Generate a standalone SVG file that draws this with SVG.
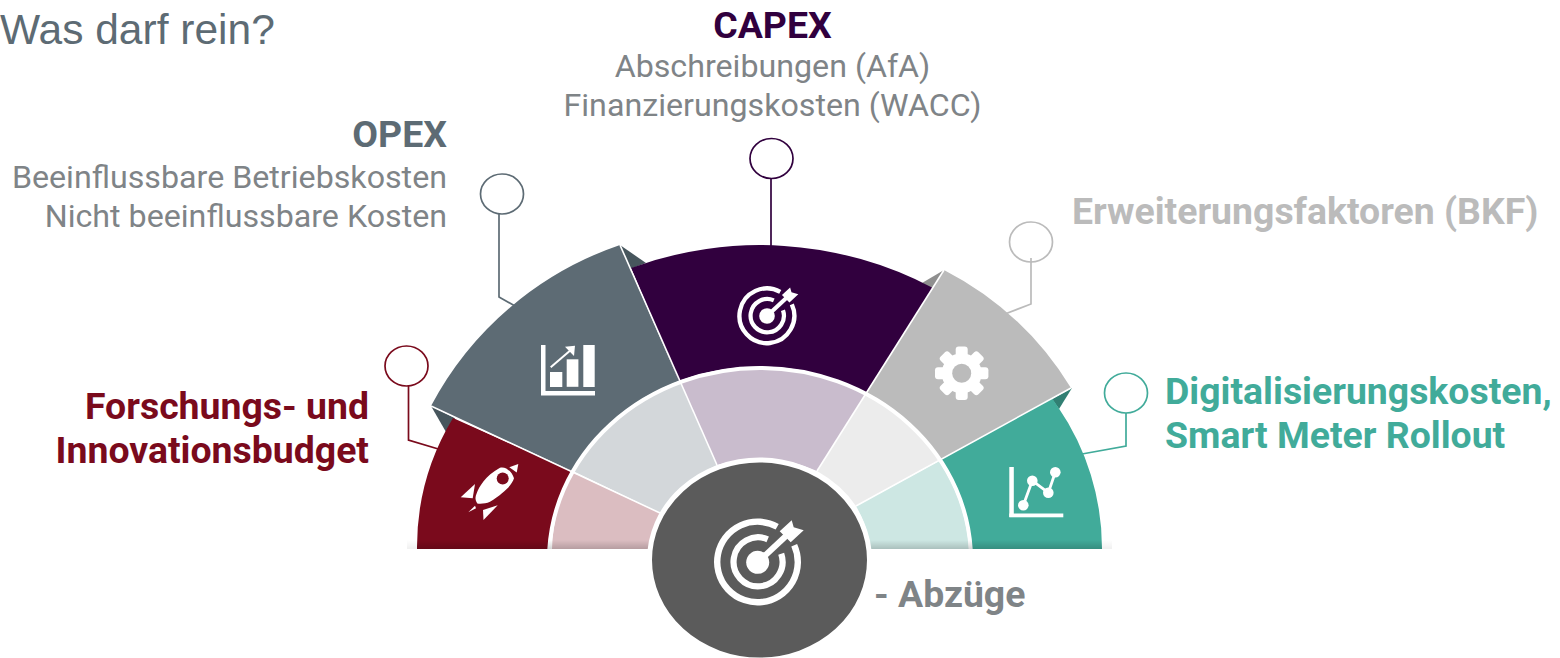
<svg xmlns="http://www.w3.org/2000/svg" xmlns:xlink="http://www.w3.org/1999/xlink" width="1560" height="658" viewBox="0 0 1560 658">
<style>
text{font-family:Roboto,"Liberation Sans",sans-serif}
.h{font-size:37.400px;font-weight:700}
.b{font-size:32.200px;fill:#7F8487}
.d{fill:none;stroke:#fff;stroke-width:1.6}
.ring{fill:none;stroke:#fff;stroke-width:4}
.lead{fill:#fff;stroke-width:1.7}
.path{fill:none;stroke-width:1.7}
.w{fill:#fff}
</style>
<defs>
<linearGradient id="sh" x1="0" y1="0" x2="0" y2="1"><stop offset="0" stop-color="#000" stop-opacity="0"/><stop offset="1" stop-color="#000" stop-opacity=".17"/></linearGradient>
<linearGradient id="fl" x1="0" y1="0" x2="0" y2="1"><stop offset="0" stop-color="#000" stop-opacity="0"/><stop offset="1" stop-color="#000" stop-opacity=".06"/></linearGradient>
<clipPath id="top"><rect x="0" y="0" width="1560" height="549"/></clipPath>
<g id="target">
<path d="M19.500 -35.500 A40.300 40.300 0 1 0 36.500 -17" fill="none" stroke="#fff" stroke-width="6.400"/>
<path d="M10 -23 A24.500 24.500 0 1 0 23.500 -8.500" fill="none" stroke="#fff" stroke-width="6.200"/>
<circle r="11.500" fill="#fff"/>
<path d="M0 0L28 -26" stroke="#fff" stroke-width="6"/>
<path d="M22 -31L34 -42L36 -35L46 -32L33 -20Z" fill="#fff"/>
</g>
</defs>
<rect width="1560" height="658" fill="#fff"/>

<g id="connectors">
<path class="path" stroke="#7A0A1C" d="M408.500 386V440L440 449.500"/>
<path class="path" stroke="#5D6B74" d="M499 214V297L515 306"/>
<path class="path" stroke="#31003E" d="M771 178V246"/>
<path class="path" stroke="#BBBBBB" d="M1031 258V304L1005 314"/>
<path class="path" stroke="#41AB9A" d="M1126 413V446L1082 454"/>
</g>

<g id="fold-shadows">
<path d="M431 406L455 418L446 432Z" fill="#47565D"/>
<path d="M620 245L646 263L630 269Z" fill="#47565D"/>
<path d="M944 270L922 283L934 290Z" fill="#8F8F8F"/>
<path d="M1072 388L1052 399L1059 409Z" fill="#317F73"/>
</g>

<g id="node-red">
<path d="M417 549A250 250 0 0 1 453 418L572 471A211 192 0 0 0 549 549Z" fill="#7A0A1C"/>
<path d="M552 549A211 192 0 0 1 572 472L660 513Q655 530 652 549Z" fill="#DBBDC1"/>
<path class="w" d="M518.300 464L516.700 472.500L509.300 467.300Z"/>
<path class="w" d="M500 467.700C506 466 512 472 514 478.300C512 485 504 493 490 501.700C486 503.500 481 504 477.300 503.500C475 500 475 497 476.700 493.300C479 487 485 476 500 467.700Z"/>
<circle cx="502.700" cy="478.500" r="6" fill="#7A0A1C"/>
<path class="w" d="M460.700 497.300L475 484L472.700 498.300Z"/>
<path class="w" d="M483.500 520L497.700 505.300L483 510Z"/>
<path class="w" d="M468.300 512.300L475 505.700L476 508.300Z"/>
</g>

<g id="node-opex">
<path d="M431 406A336 336 0 0 1 620 245L679 381A211 192 0 0 0 572 471Z" fill="#5D6B74"/>
<path d="M573 471A211 192 0 0 1 680 381L717 465Q685 480 660 513Z" fill="#D3D7DA"/>
<rect class="w" x="541" y="345" width="4.500" height="50"/>
<rect class="w" x="541" y="391" width="54" height="4.500"/>
<rect class="w" x="550" y="372" width="12.300" height="15"/>
<rect class="w" x="566.700" y="359.300" width="11.700" height="27.500"/>
<rect class="w" x="583.300" y="345" width="11.400" height="42"/>
<path d="M550.700 367.300L572 349" stroke="#fff" stroke-width="2" fill="none"/>
<path class="w" d="M575 345.700L565 346.700L574 356Z"/>
</g>

<g id="node-capex">
<path d="M631 268A372 372 0 0 1 933 288L866 393A211 192 0 0 0 679 381Z" fill="#31003E"/>
<path d="M680 382A211 192 0 0 1 866 394L817 471Q770 450 717 465Z" fill="#C9BCCD"/>
<use href="#target" transform="translate(767 316) scale(.68)"/>
</g>

<g id="node-bkf">
<path d="M944 270A322 322 0 0 1 1071 388L940 460A211 192 0 0 0 866 393Z" fill="#BBBBBB"/>
<path d="M866 394A211 192 0 0 1 939 460L856 506Q842 485 817 471Z" fill="#ECECEC"/>
<g transform="translate(961.700 373.300)">
<circle r="20" fill="#fff"/>
<rect class="w" x="-6" y="-26.700" width="12" height="53.400" rx="3"/>
<rect class="w" x="-6" y="-26.700" width="12" height="53.400" rx="3" transform="rotate(45)"/>
<rect class="w" x="-6" y="-26.700" width="12" height="53.400" rx="3" transform="rotate(90)"/>
<rect class="w" x="-6" y="-26.700" width="12" height="53.400" rx="3" transform="rotate(135)"/>
<circle r="9.500" fill="#BBBBBB"/>
</g>
</g>

<g id="node-digital">
<path d="M1052 398L1058 407A250 250 0 0 1 1102 549H972A211 192 0 0 0 940 460Z" fill="#41AB9A"/>
<path d="M939 461A211 192 0 0 1 969 549H871Q867 525 856 506Z" fill="#CDE7E3"/>
<rect class="w" x="1009.300" y="467" width="4.500" height="50"/>
<rect class="w" x="1009.300" y="513.500" width="54" height="3.800"/>
<path d="M1023.300 505.300L1032.300 480.700L1048.300 492.700L1055.300 472.300" fill="none" stroke="#fff" stroke-width="2.800"/>
<circle class="w" cx="1023.300" cy="505.300" r="5.300"/>
<circle class="w" cx="1032.300" cy="480.700" r="5.300"/>
<circle class="w" cx="1048.300" cy="492.700" r="5.300"/>
<circle class="w" cx="1055.300" cy="472.300" r="5.300"/>
</g>

<g id="dividers">
<path class="d" d="M431 406L660 513"/>
<path class="d" d="M620 245L717 465"/>
<path class="d" d="M944 270L817 471"/>
<path class="d" d="M1071 388L856 506"/>
<ellipse class="ring" cx="760" cy="560" rx="211" ry="192" clip-path="url(#top)"/>
</g>

<rect id="base-shadow" x="417" y="540" width="685" height="9" fill="url(#sh)"/>
<rect x="407" y="540" width="10" height="9" fill="url(#fl)"/>
<rect x="1102" y="540" width="10" height="9" fill="url(#fl)"/>

<g id="node-center">
<ellipse cx="759.500" cy="560" rx="110" ry="100" fill="#5B5B5B" stroke="#fff" stroke-width="5"/>
<use href="#target" transform="translate(757.700 562.300)"/>
</g>

<g id="labels">
<text x="0" y="44" font-size="42.500" fill="#5D6B74" style="font-family:'Liberation Sans',sans-serif">Was darf rein?</text>
<g id="label-capex" text-anchor="middle">
<text class="h" x="772.500" y="38" fill="#31003E">CAPEX</text>
<text class="b" x="772.500" y="77">Abschreibungen (AfA)</text>
<text class="b" x="772.500" y="116">Finanzierungskosten (WACC)</text>
</g>
<g id="label-opex" text-anchor="end">
<text class="h" x="447" y="147" fill="#5D6B74">OPEX</text>
<text class="b" x="447" y="188">Beeinflussbare Betriebskosten</text>
<text class="b" x="447" y="227">Nicht beeinflussbare Kosten</text>
</g>
<text class="h" x="1072" y="224" fill="#BBBBBB">Erweiterungsfaktoren (BKF)</text>
<g id="label-red" text-anchor="end" fill="#7A0A1C">
<text class="h" x="369" y="419">Forschungs- und</text>
<text class="h" x="369" y="463">Innovationsbudget</text>
</g>
<g id="label-digital" fill="#41AB9A">
<text class="h" x="1165" y="404">Digitalisierungskosten,</text>
<text class="h" x="1165" y="448">Smart Meter Rollout</text>
</g>
<text class="h" x="874" y="607" fill="#7F8487">- Abzüge</text>
</g>

<g id="lollipops">
<ellipse class="lead" cx="406.500" cy="366" rx="21.500" ry="20" stroke="#7A0A1C"/>
<ellipse class="lead" cx="502" cy="194" rx="21.500" ry="20" stroke="#5D6B74"/>
<ellipse class="lead" cx="771.500" cy="158.500" rx="21.500" ry="20" stroke="#31003E"/>
<ellipse cx="1031" cy="242" rx="21.500" ry="20" fill="none" stroke="#BBBBBB" stroke-width="1.700"/>
<ellipse class="lead" cx="1126" cy="393" rx="21.500" ry="20" stroke="#41AB9A"/>
</g>
</svg>
